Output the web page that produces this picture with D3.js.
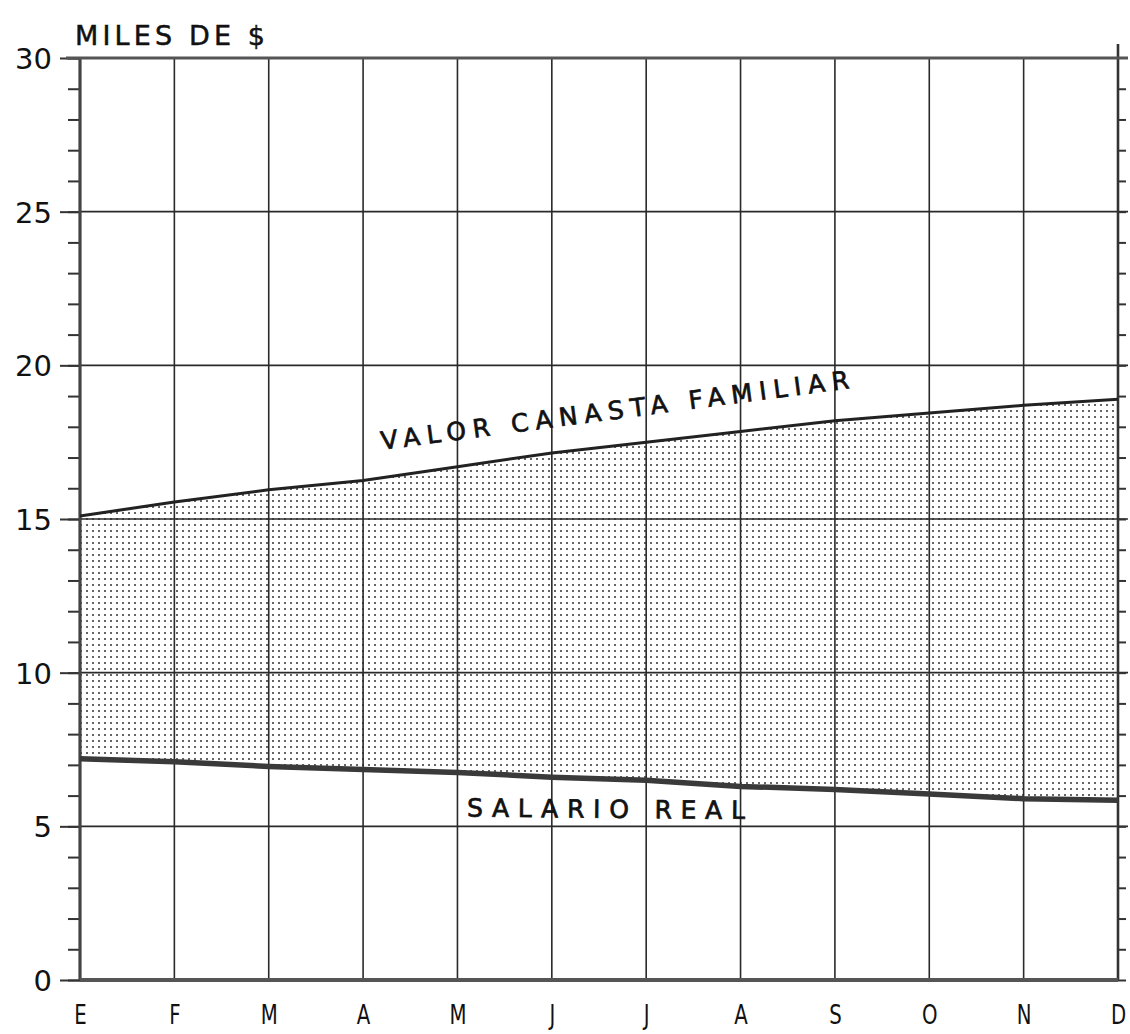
<!DOCTYPE html>
<html>
<head>
<meta charset="utf-8">
<script src="https://cdn.jsdelivr.net/npm/d3@7"></script>
<style>
  html, body { margin: 0; padding: 0; background: #ffffff; }
  svg { display: block; }
  text { font-family: "DejaVu Sans", "Liberation Sans", sans-serif; fill: #111; }
</style>
</head>
<body>
<svg id="chart" width="1130" height="1034"></svg>
<script>
// ---- data ----
const months = ["E","F","M","A","M","J","J","A","S","O","N","D"];
const canasta = [15.1, 15.55, 15.95, 16.25, 16.7, 17.15, 17.5, 17.85, 18.2, 18.45, 18.7, 18.9];
const salario = [7.2, 7.1, 6.95, 6.85, 6.75, 6.6, 6.5, 6.3, 6.2, 6.05, 5.9, 5.85];
const yTicks = [0, 5, 10, 15, 20, 25, 30];
const yMinor = d3.range(0, 31, 1);
const yTitle = "MILES DE $";
const labelCanasta = "VALOR CANASTA FAMILIAR";
const labelSalario = "SALARIO REAL";

// ---- layout ----
const FONT = "'DejaVu Sans', 'Liberation Sans', sans-serif";
const svg = d3.select("#chart");
const x = d3.scaleLinear().domain([0, months.length - 1]).range([80, 1118]);
const y = d3.scaleLinear().domain([0, 30]).range([980, 58]);

// dot pattern
const defs = svg.append("defs");
const pat = defs.append("pattern").attr("id", "dots").attr("patternUnits", "userSpaceOnUse")
  .attr("width", 6).attr("height", 6);
pat.append("circle").attr("cx", 3).attr("cy", 3).attr("r", 1.0).attr("fill", "#1a1a1a").attr("opacity", 0.9);

const idx = d3.range(months.length);

// shaded area between the two series
const area = d3.area()
  .x(i => x(i))
  .y0(i => y(salario[i]))
  .y1(i => y(canasta[i]));
svg.append("path").datum(idx).attr("d", area).attr("fill", "url(#dots)");

// horizontal grid lines (majors), slightly beyond the right axis
svg.append("g").selectAll("line").data(yTicks.filter(v => v > 0 && v < 30)).join("line")
  .attr("x1", x(0)).attr("x2", x(11) + 10)
  .attr("y1", d => y(d)).attr("y2", d => y(d))
  .attr("stroke", "#2a2a2a").attr("stroke-width", 1.6);

// vertical grid lines
svg.append("g").selectAll("line").data(idx.slice(1, -1)).join("line")
  .attr("x1", d => x(d)).attr("x2", d => x(d))
  .attr("y1", y(30)).attr("y2", y(0))
  .attr("stroke", "#2a2a2a").attr("stroke-width", 1.6);

// left axis: minor ticks
const leftMinor = svg.append("g").attr("transform", `translate(${x(0)},0)`)
  .call(d3.axisLeft(y).tickValues(yMinor).tickSize(12).tickFormat(""));
leftMinor.select(".domain").remove();
leftMinor.selectAll("line").attr("stroke", "#333").attr("stroke-width", 2);

// left axis: majors with labels
const leftMajor = svg.append("g").attr("transform", `translate(${x(0)},0)`)
  .call(d3.axisLeft(y).tickValues(yTicks).tickSize(20).tickPadding(8).tickFormat(d3.format("d")));
leftMajor.select(".domain").remove();
leftMajor.selectAll("line").attr("stroke", "#333").attr("stroke-width", 2);
leftMajor.selectAll("text").attr("font-size", 29).attr("fill", "#111")
  .attr("font-family", FONT).attr("dy", "0.36em");

// right axis: minor ticks outward
const rightMinor = svg.append("g").attr("transform", `translate(${x(11)},0)`)
  .call(d3.axisRight(y).tickValues(yMinor.filter(v => v < 30)).tickSize(8).tickFormat(""));
rightMinor.select(".domain").remove();
rightMinor.selectAll("line").attr("stroke", "#333").attr("stroke-width", 2);

// frame lines
svg.append("line").attr("x1", x(0)).attr("x2", x(0)).attr("y1", y(30)).attr("y2", y(0))
  .attr("stroke", "#444").attr("stroke-width", 3.2);
svg.append("line").attr("x1", x(11)).attr("x2", x(11)).attr("y1", y(30) - 14).attr("y2", y(0))
  .attr("stroke", "#333").attr("stroke-width", 2.6);
svg.append("line").attr("x1", x(0) - 14).attr("x2", x(11) + 10).attr("y1", y(30)).attr("y2", y(30))
  .attr("stroke", "#555").attr("stroke-width", 3);
svg.append("line").attr("x1", x(0)).attr("x2", x(11)).attr("y1", y(0)).attr("y2", y(0))
  .attr("stroke", "#555").attr("stroke-width", 4);

// bottom axis: month labels
const bottom = svg.append("g").attr("transform", `translate(0,${y(0)})`)
  .call(d3.axisBottom(x).tickValues(idx).tickSize(0).tickPadding(26).tickFormat(i => months[i]));
bottom.select(".domain").remove();
bottom.selectAll("text").attr("font-size", 26).attr("fill", "#111")
  .attr("font-family", FONT)
  .attr("transform", "scale(0.76,1)");

// series lines
const line = vals => d3.line().x(i => x(i)).y(i => y(vals[i]));
svg.append("path").datum(idx).attr("d", line(canasta))
  .attr("fill", "none").attr("stroke", "#222").attr("stroke-width", 3);
svg.append("path").datum(idx).attr("d", line(salario))
  .attr("fill", "none").attr("stroke", "#3a3a3a").attr("stroke-width", 5.5);

// title
svg.append("text").attr("x", 75).attr("y", 45).attr("font-size", 27)
  .attr("stroke", "#111").attr("stroke-width", 0.5)
  .attr("textLength", 190).attr("lengthAdjust", "spacing").text(yTitle);

// series labels
const cx0 = x(3.2), cy0 = y(canasta[3] + 0.2 * (canasta[4] - canasta[3])) - 28;
svg.append("text")
  .attr("transform", `translate(${cx0},${cy0}) rotate(-7.5)`)
  .attr("font-size", 25).attr("stroke", "#111").attr("stroke-width", 0.7)
  .attr("textLength", 472).attr("lengthAdjust", "spacing")
  .text(labelCanasta);

const sx0 = x(4.1);
svg.append("text")
  .attr("transform", `translate(${sx0},${y(salario[4]) + 44}) rotate(0.5)`)
  .attr("font-size", 25).attr("stroke", "#111").attr("stroke-width", 0.7)
  .attr("textLength", 278).attr("lengthAdjust", "spacing")
  .text(labelSalario);
</script>
</body>
</html>
